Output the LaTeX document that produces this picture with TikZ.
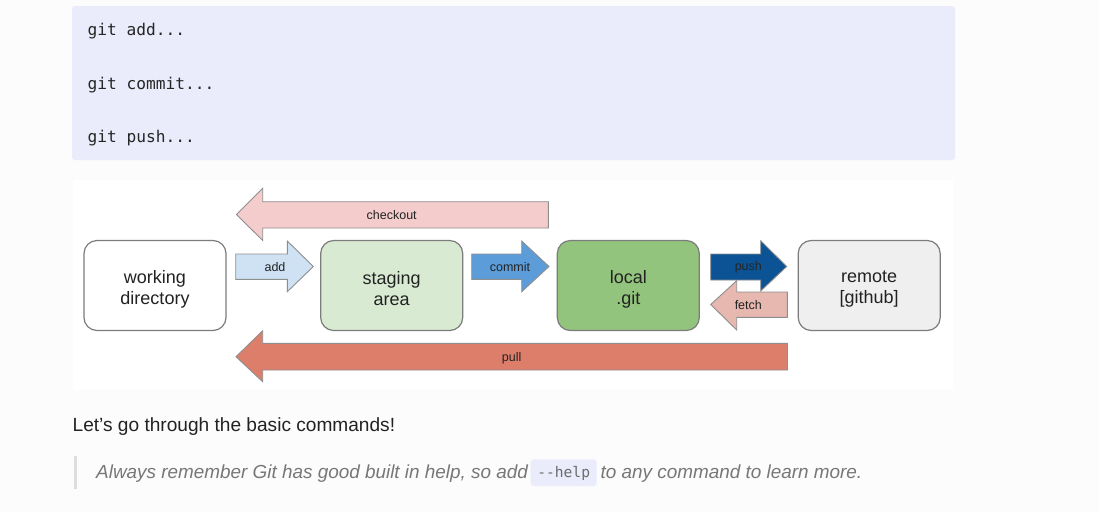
\documentclass[tikz,border=0pt]{standalone}
\usepackage{fontspec}
\setmainfont{Liberation Sans}
\newfontfamily\codefont{DejaVu Sans Mono}
\definecolor{pagebg}{HTML}{FCFCFC}
\definecolor{codebg}{HTML}{EAECFB}
\definecolor{codetxt}{HTML}{262626}
\definecolor{boxline}{HTML}{7C7C7C}
\definecolor{arrline}{HTML}{8E8E8E}
\definecolor{cchk}{HTML}{F4CCCC}
\definecolor{cadd}{HTML}{CFE2F3}
\definecolor{ccommit}{HTML}{5C9DD9}
\definecolor{cpush}{HTML}{0B5394}
\definecolor{cfetch}{HTML}{E6B8AF}
\definecolor{cpull}{HTML}{DD7E6B}
\definecolor{cstage}{HTML}{D9EAD3}
\definecolor{clocal}{HTML}{93C47D}
\definecolor{cremote}{HTML}{EFEFEF}
\definecolor{bodytxt}{HTML}{222222}
\definecolor{quotetxt}{HTML}{777777}
\definecolor{quotebar}{HTML}{DDDDDD}
\begin{document}
\begin{tikzpicture}[x=1pt,y=-1pt,
  box/.style={draw=boxline,line width=1.2pt,rounded corners=13pt,minimum width=142pt,minimum height=90pt,inner sep=0pt},
  boxtext/.style={align=center,text=bodytxt,font=\fontsize{18}{21}\selectfont,inner sep=0pt,yshift=-3.5pt},
  blockarrow/.style={draw=arrline,line width=0.9pt,line join=miter},
  alabel/.style={font=\fontsize{12.5}{14}\selectfont,text=bodytxt,inner sep=0pt},
  codeline/.style={anchor=base west,inner sep=0pt,text=codetxt,font=\codefont\fontsize{16.2}{18}\selectfont}]
\useasboundingbox (0,0) rectangle (1099,512);
\fill[pagebg] (0,0) rectangle (1099,512);
% code block
\fill[codebg,rounded corners=3pt] (72,6) rectangle (955,160);
\node[codeline] (c1) at (87.3,35.5) {git add...};
\node[codeline] (c2) at (87.3,89) {git commit...};
\node[codeline] (c3) at (87.3,142) {git push...};
% diagram background
\fill[white] (73,180) rectangle (953,390);
% boxes
\node[box,fill=white] (wd) at (155,285.5) {};
\node[boxtext] (wdt) at (wd.center) {working\\directory};
\node[box,fill=cstage] (st) at (391.7,285.5) {};
\node[boxtext] (stt) at (st.center) {staging\\area};
\node[box,fill=clocal] (lg) at (628.3,285.5) {};
\node[boxtext] (lgt) at (lg.center) {local\\.git};
\node[box,fill=cremote] (rm) at (869.2,285.5) {};
\node[boxtext] (rmt) at (rm.center) {remote\\{[github]}};
% checkout
\filldraw[blockarrow,fill=cchk] (236.5,214.5) -- (262.7,188.3) -- (262.7,201.7) -- (548.3,201.7) -- (548.3,228) -- (262.7,228) -- (262.7,240.5) -- cycle;
\node[alabel] (lchk) at (391.7,214.7) {checkout};
% add
\filldraw[blockarrow,fill=cadd] (235.7,254) -- (287.3,254) -- (287.3,241) -- (313.3,266.5) -- (287.3,291.7) -- (287.3,279.3) -- (235.7,279.3) -- cycle;
\node[alabel] (ladd) at (275,267) {add};
% commit
\filldraw[blockarrow,fill=ccommit] (471.7,254) -- (521.7,254) -- (521.7,241) -- (549,266.5) -- (521.7,291.7) -- (521.7,279.3) -- (471.7,279.3) -- cycle;
\node[alabel] (lcommit) at (510,267) {commit};
% push
\filldraw[blockarrow,fill=cpush] (710.7,254) -- (760.7,254) -- (760.7,240.7) -- (786.7,266.5) -- (760.7,291) -- (760.7,280) -- (710.7,280) -- cycle;
\node[alabel,text=black!85] (lpush) at (748.3,267.5) {push};
% fetch
\filldraw[blockarrow,fill=cfetch] (710.7,304.5) -- (736.7,280.7) -- (736.7,292) -- (787.3,292) -- (787.3,317.3) -- (736.7,317.3) -- (736.7,330) -- cycle;
\node[alabel] (lfetch) at (748.3,305.5) {fetch};
% pull
\filldraw[blockarrow,fill=cpull] (236,356.7) -- (262.7,330.7) -- (262.7,343.3) -- (787.3,343.3) -- (787.3,370) -- (262.7,370) -- (262.7,381.7) -- cycle;
\node[alabel] (lpull) at (511.7,357.8) {pull};
% text below
\node[anchor=base west,inner sep=0pt,text=bodytxt,font=\fontsize{19.1}{22}\selectfont] (t1) at (72.5,431) {Let’s go through the basic commands!};
\fill[quotebar] (73.5,456) rectangle (77.3,489);
\node[anchor=base west,inner sep=0pt,text=quotetxt,font=\itshape\fontsize{18.9}{22}\selectfont] (q1) at (96,478.3) {Always remember Git has good built in help, so add};
\fill[codebg,rounded corners=3pt] (530.7,459.3) rectangle (596.7,486);
\node[anchor=base,inner sep=0pt,text=quotetxt!90!black,font=\codefont\fontsize{14.6}{16}\selectfont] (q2) at (563.7,477) {-{}-help};
\node[anchor=base west,inner sep=0pt,text=quotetxt,font=\itshape\fontsize{18.9}{22}\selectfont] (q3) at (600.5,478.3) {to any command to learn more.};
\end{tikzpicture}
\end{document}
